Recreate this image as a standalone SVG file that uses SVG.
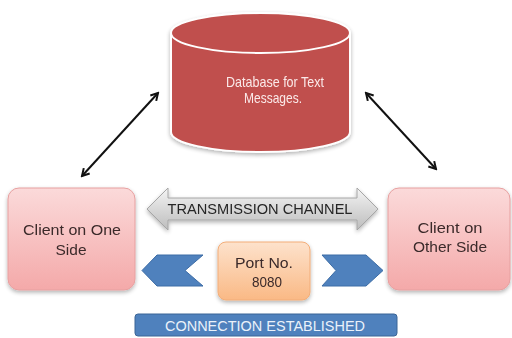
<svg xmlns="http://www.w3.org/2000/svg" width="512" height="338" viewBox="0 0 512 338">
<defs>
<style>
.t{font-family:"Liberation Sans",Arial,sans-serif;text-anchor:middle}
.dark{fill:#3b2a2a;font-size:15px}
.conn{stroke:#111;stroke-width:2;fill:none;marker-start:url(#ah);marker-end:url(#ah)}
</style>
<marker id="ah" viewBox="0 0 10 10" refX="8" refY="5" markerWidth="5" markerHeight="5" orient="auto-start-reverse" markerUnits="strokeWidth">
<path d="M1,1 L8,5 L1,9" fill="none" stroke="#111" stroke-width="2"/>
</marker>
<linearGradient id="pink" x1="0" y1="0" x2="0" y2="1">
<stop offset="0" stop-color="#fbdada"/><stop offset="1" stop-color="#f4a9a9"/>
</linearGradient>
<linearGradient id="orange" x1="0" y1="0" x2="0" y2="1">
<stop offset="0" stop-color="#fde2cc"/><stop offset="1" stop-color="#fab985"/>
</linearGradient>
<linearGradient id="gray" x1="0" y1="0" x2="0" y2="1">
<stop offset="0" stop-color="#f4f4f4"/><stop offset="0.5" stop-color="#d8d8d8"/><stop offset="1" stop-color="#bdbdbd"/>
</linearGradient>
<filter id="sh" x="-20%" y="-20%" width="140%" height="150%">
<feGaussianBlur in="SourceAlpha" stdDeviation="2"/><feOffset dy="2"/>
<feComponentTransfer><feFuncA type="linear" slope="0.3"/></feComponentTransfer>
<feMerge><feMergeNode/><feMergeNode in="SourceGraphic"/></feMerge>
</filter>
</defs>
<rect width="512" height="338" fill="#fff"/>

<g id="connectors">
<line class="conn" x1="158" y1="93" x2="82" y2="176"/>
<line class="conn" x1="366" y1="93" x2="436" y2="169"/>
</g>

<g id="database" filter="url(#sh)">
<path d="M171,33 L171,132 A89.5,20 0 0 0 350,132 L350,33 Z" fill="#c0504d" stroke="#fff" stroke-width="2"/>
<ellipse cx="260.5" cy="33" rx="89.5" ry="20" fill="#c0504d" stroke="#fff" stroke-width="2"/>
<text class="t" x="275" y="87" font-size="15" fill="#fbe9e9" textLength="98" lengthAdjust="spacingAndGlyphs">Database for Text</text>
<text class="t" x="273" y="103" font-size="15" fill="#fbe9e9" textLength="58" lengthAdjust="spacingAndGlyphs">Messages.</text>
</g>

<g id="client-one" filter="url(#sh)">
<rect x="8" y="188" width="127" height="102" rx="11" fill="url(#pink)" stroke="#e7a0a0" stroke-width="1"/>
<text class="t dark" x="72" y="235" textLength="98" lengthAdjust="spacingAndGlyphs">Client on One</text>
<text class="t dark" x="71" y="255" textLength="31" lengthAdjust="spacingAndGlyphs">Side</text>
</g>

<g id="client-other" filter="url(#sh)">
<rect x="388" y="188" width="122" height="102" rx="11" fill="url(#pink)" stroke="#e7a0a0" stroke-width="1"/>
<text class="t dark" x="450" y="233" font-size="14.5" textLength="65" lengthAdjust="spacingAndGlyphs">Client on</text>
<text class="t dark" x="450" y="252" font-size="14.5" textLength="74" lengthAdjust="spacingAndGlyphs">Other Side</text>
</g>

<g id="transmission-channel" filter="url(#sh)">
<polygon points="147,209 168,188 168,198 357,198 357,188 378,209 357,230 357,220 168,220 168,230" fill="url(#gray)" stroke="#a6a6a6" stroke-width="1"/>
<text class="t" x="260" y="214" font-size="14.5" fill="#262626" textLength="185" lengthAdjust="spacingAndGlyphs">TRANSMISSION CHANNEL</text>
</g>

<g id="port" filter="url(#sh)">
<rect x="218" y="242" width="92" height="58" rx="8" fill="url(#orange)" stroke="#f3ad78" stroke-width="1"/>
<text class="t dark" x="264" y="268" textLength="58" lengthAdjust="spacingAndGlyphs">Port No.</text>
<text class="t dark" x="267" y="287" textLength="30" lengthAdjust="spacingAndGlyphs">8080</text>
</g>

<g id="chevron-left">
<polygon points="157,255 203,255 185,270.5 203,286 157,286 142,270.5" fill="#4f81bd" stroke="#3d6da6" stroke-width="1"/>
</g>

<g id="chevron-right">
<polygon points="322,255 366,255 383,270.5 366,286 322,286 336,270.5" fill="#4f81bd" stroke="#3d6da6" stroke-width="1"/>
</g>

<g id="connection-established">
<rect x="135" y="314" width="262" height="22" rx="3" fill="#4f81bd" stroke="#3b6596" stroke-width="1"/>
<text class="t" x="265" y="331" font-size="15" fill="#eaf1fa" textLength="200" lengthAdjust="spacingAndGlyphs">CONNECTION ESTABLISHED</text>
</g>
</svg>
